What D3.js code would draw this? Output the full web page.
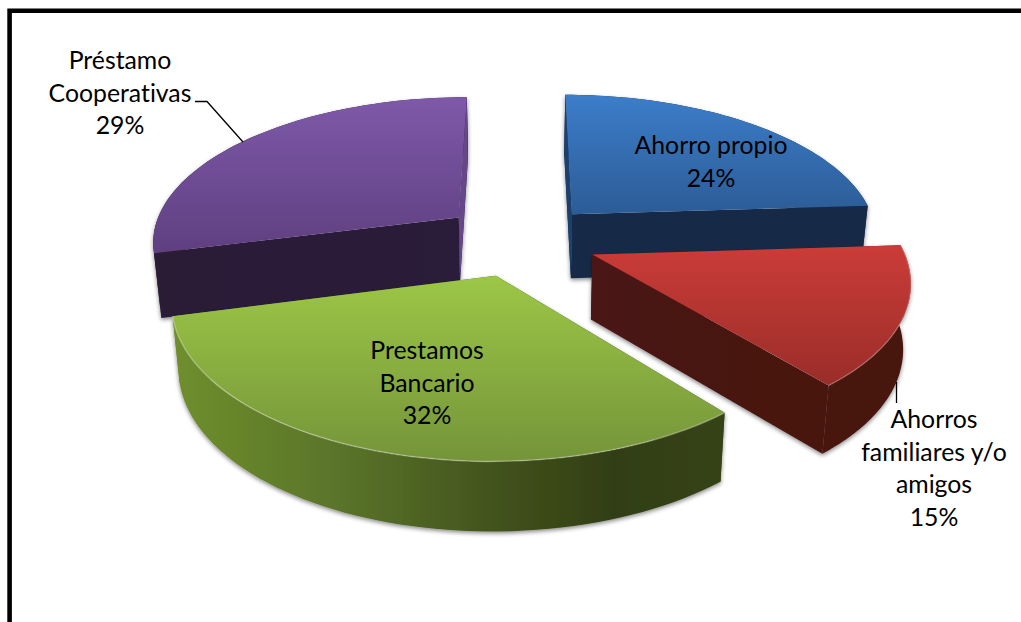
<!DOCTYPE html>
<html>
<head>
<meta charset="utf-8">
<script src="https://cdn.jsdelivr.net/npm/d3@7/dist/d3.min.js"></script>
<style>
html,body{margin:0;padding:0;background:#fff;overflow:hidden}
svg{display:block}
text{font-family:Lato,"Open Sans",sans-serif;font-size:24.8px;fill:#000;text-anchor:middle;font-variant-ligatures:none}
</style>
</head>
<body>
<svg id="c" width="1021" height="622"></svg>
<script>
// --- data ---
const categories = ["Ahorro propio", "Ahorros familiares y/o amigos", "Prestamos Bancario", "Préstamo Cooperativas"];
const shares = [24, 15, 32, 29];
const percentLabels = ["24%", "15%", "32%", "29%"];
const labelLines = [["Ahorro propio"], ["Ahorros", "familiares y/o", "amigos"], ["Prestamos", "Bancario"], ["Préstamo", "Cooperativas"]];

// --- styling and layout ---
const topColors = [["#3c7dca", "#2c5c96"], ["#cb3c38", "#9a2d29"], ["#9cc746", "#75943a"], ["#7f59a9", "#5f3f80"]];
const wallStops = [
  [[0, "#152a46"], [1, "#152a46"]],
  [[0, "#4b1412"], [1, "#471210"]],
  [[0, "#6f8f2d"], [0.3, "#5a742a"], [0.62, "#3f4f1b"], [0.8, "#323e14"], [1, "#364318"]],
  [[0, "#291b36"], [1, "#2c1c3a"]]
];
const sliverColors = ["#1c3f6e", null, null, "#65468a"];
const rimHighlight = [0, 0.2, 0.3, 0];
const labelAnchors = [[711, 154], [934, 428], [427, 359], [120, 69]];
const lineGap = 32.7;
const drawOrder = [3, 0, 2, 1];
const explodes = [0.25, 0.25, 0.25, 0.26];
const persp = 0.153, cx = 520.6, cy = 240, rx = 308, ry = 145;

const svg = d3.select("#c");
const defs = svg.append("defs");
const shadow = defs.append("filter").attr("id", "sh").attr("x", "-5%").attr("y", "-5%").attr("width", "110%").attr("height", "115%");
shadow.append("feDropShadow").attr("dx", 0).attr("dy", 2).attr("stdDeviation", 2).attr("flood-color", "#000").attr("flood-opacity", 0.45);

// frame: left and top only reach the picture
svg.append("path").attr("d", "M9.6,622V10.8H1021").attr("fill", "none").attr("stroke", "#000").attr("stroke-width", 4.6);

const pie = d3.pie().sort(null).value(d => d);
const arcs = pie(shares);
const sx = d3.scaleLinear().domain([-1, 1]).range([cx - rx, cx + rx]);
const sy = d3.scaleLinear().domain([-1, 1]).range([cy + ry, cy - ry]);
const depthScale = d3.scaleLinear().domain([0.973, 1.23]).range([64, 70]);

function project(X, Y, low) {
  const s = 1 / (1 + persp * Y);
  const x = sx(X * s), y = sy(Y * s);
  if (!low) return [x, y];
  return [cx + (x - cx) * 0.98, y + depthScale(s)];
}
const line = d3.line();

function sliceGeom(a, e) {
  const mid = (a.startAngle + a.endAngle) / 2;
  const ox = e * Math.sin(mid), oy = e * Math.cos(mid);
  const angles = d3.range(0, 61).map(i => a.startAngle + (a.endAngle - a.startAngle) * i / 60);
  const rim = angles.map(t => [ox + Math.sin(t), oy + Math.cos(t)]);
  return { apex: [ox, oy], rim };
}

const g = svg.append("g");
drawOrder.forEach(i => {
  const geom = sliceGeom(arcs[i], explodes[i]);
  const P = p => project(p[0], p[1], false), Q = p => project(p[0], p[1], true);
  const rimTop = geom.rim.map(P), rimLow = geom.rim.map(Q);
  const apexTop = P(geom.apex), apexLow = Q(geom.apex);

  const xs = rimTop.concat([apexTop]).map(p => p[0]);
  const lg = defs.append("linearGradient").attr("id", "w" + i).attr("gradientUnits", "userSpaceOnUse")
    .attr("x1", d3.min(xs)).attr("x2", d3.max(xs)).attr("y1", 0).attr("y2", 0);
  wallStops[i].forEach(s => lg.append("stop").attr("offset", s[0]).attr("stop-color", s[1]));

  const ys = rimTop.concat([apexTop]).map(p => p[1]);
  const tg = defs.append("linearGradient").attr("id", "t" + i).attr("gradientUnits", "userSpaceOnUse")
    .attr("x1", 0).attr("x2", 0).attr("y1", d3.min(ys)).attr("y2", d3.max(ys));
  tg.append("stop").attr("offset", 0).attr("stop-color", topColors[i][0]);
  tg.append("stop").attr("offset", 1).attr("stop-color", topColors[i][1]);

  const s = g.append("g");
  const body = s.append("g").attr("filter", "url(#sh)");
  const n = rimTop.length;
  const startCut = [apexTop, rimTop[0], rimLow[0], apexLow];
  const endCut = [apexTop, rimTop[n - 1], rimLow[n - 1], apexLow];
  const outer = rimTop.concat(rimLow.slice().reverse());
  body.append("path").attr("d", line(outer) + "Z").attr("fill", `url(#w${i})`);
  body.append("path").attr("d", line(startCut) + "Z").attr("fill", `url(#w${i})`);
  body.append("path").attr("d", line(endCut) + "Z").attr("fill", `url(#w${i})`);
  if (sliverColors[i]) {
    // the cut face turned towards the gap between the back slices
    body.append("path").attr("d", line(i === 0 ? startCut : endCut) + "Z").attr("fill", sliverColors[i]);
  }
  // top face
  s.append("path").attr("d", line([apexTop].concat(rimTop)) + "Z").attr("fill", `url(#t${i})`);
  // bevel highlight on the rim
  if (rimHighlight[i]) s.append("path").attr("d", line(rimTop)).attr("fill", "none").attr("stroke", "#fff").attr("stroke-opacity", rimHighlight[i]).attr("stroke-width", 1.5);
});

// leader lines
svg.append("path").attr("d", "M195,101.5H207L243,142").attr("fill", "none").attr("stroke", "#000").attr("stroke-width", 1.3);
svg.append("path").attr("d", "M896.5,382V403").attr("fill", "none").attr("stroke", "#000").attr("stroke-width", 1.3);

// labels
categories.forEach((c, i) => {
  const lines = labelLines[i].concat([percentLabels[i]]);
  const t = svg.append("text").attr("aria-label", c);
  lines.forEach((l, k) => t.append("tspan").attr("x", labelAnchors[i][0]).attr("y", labelAnchors[i][1] + k * lineGap).text(l));
});
</script>
</body>
</html>
